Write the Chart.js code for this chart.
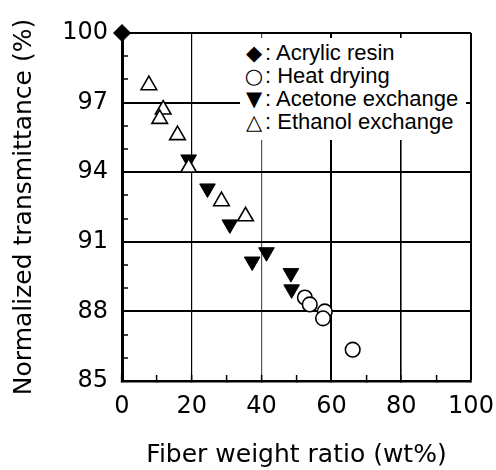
<!DOCTYPE html>
<html><head><meta charset="utf-8">
<script src="https://cdn.jsdelivr.net/npm/chart.js@4.4.1/dist/chart.umd.min.js"></script>
<style>
html,body{margin:0;padding:0;background:#fff;}
#wrap{position:relative;width:496px;height:470px;}
#c{position:absolute;left:0;top:0;}
#legend{position:absolute;left:240px;top:38px;width:226px;height:102px;background:#fff;font-family:'Liberation Sans',Arial,sans-serif;font-size:22px;color:#000;padding-top:3px;box-sizing:border-box;}
.item{height:23px;line-height:23px;white-space:nowrap;}
.sym{display:inline-block;width:22px;text-align:center;font-family:'DejaVu Sans',sans-serif;font-size:21px;margin-left:3px;}
</style></head><body>
<div id="wrap"><canvas id="c" width="496" height="470"></canvas><div id="legend"></div></div>
<script>
// ---- data ----
const xTickLabels = [0, 20, 40, 60, 80, 100];
const yTickLabels = [85, 88, 91, 94, 97, 100];
const seriesNames = ['Acrylic resin', 'Heat drying', 'Acetone exchange', 'Ethanol exchange'];
const seriesGlyphs = ['\u25C6', '\u25CB', '\u25BC', '\u25B3'];

const acrylicX = [0];
const acrylicY = [100];

const heatX = [52.4, 53.8, 58.1, 57.6, 66.1];
const heatY = [88.6, 88.3, 88.0, 87.7, 86.35];

const acetoneX = [19.1, 24.5, 30.9, 37.3, 41.4, 48.4, 48.6];
const acetoneY = [94.55, 93.3, 91.75, 90.15, 90.55, 89.65, 88.95];

const ethanolX = [7.7, 11.8, 10.8, 15.9, 19.1, 28.5, 35.4];
const ethanolY = [97.75, 96.7, 96.3, 95.6, 94.2, 92.75, 92.1];

const pts = (xs, ys) => xs.map((x, i) => ({x: x, y: ys[i]}));

const datasets = [
  {label: seriesNames[0], data: pts(acrylicX, acrylicY), pointStyle: 'rectRot', pointRadius: 8.5,
   backgroundColor: '#000', borderColor: '#000', borderWidth: 1, order: 0, clip: false},
  {label: seriesNames[1], data: pts(heatX, heatY), pointStyle: 'circle', pointRadius: 7.3,
   backgroundColor: '#fff', borderColor: '#000', borderWidth: 1.6, order: 1, clip: false},
  {label: seriesNames[2], data: pts(acetoneX, acetoneY), pointStyle: 'triangle', pointRotation: 180, pointRadius: 9,
   backgroundColor: '#000', borderColor: '#000', borderWidth: 1, order: 3, clip: false},
  {label: seriesNames[3], data: pts(ethanolX, ethanolY), pointStyle: 'triangle', pointRadius: 9,
   backgroundColor: '#fff', borderColor: '#000', borderWidth: 1.6, order: 2, clip: false}
];

const TR = 'rgba(0,0,0,0)';
const chart = new Chart(document.getElementById('c'), {
  type: 'scatter',
  data: {datasets: datasets},
  options: {
    responsive: false,
    animation: false,
    events: [],
    layout: {padding: {top: 33, right: 25, left: 0, bottom: 0}},
    plugins: {legend: {display: false}, tooltip: {enabled: false}},
    scales: {
      x: {
        type: 'linear', min: 0, max: 100,
        afterFit: s => { s.height = 89; s.paddingRight = 0; s.paddingLeft = 0; },
        ticks: {stepSize: 10, autoSkip: false, maxRotation: 0, padding: 17, color: '#000',
          font: {family: 'DejaVu Sans', size: 24},
          callback: v => xTickLabels.includes(v) ? String(v) : ''},
        grid: {
          color: c => { const v = c.tick ? c.tick.value : null;
            if (v === 40) return '#555';
            return (v === 20 || v === 60 || v === 80 || v === 100) ? '#000' : TR; },
          lineWidth: c => { const v = c.tick ? c.tick.value : null;
            return v === 60 || v === 100 ? 2 : (v === 80 ? 1.6 : 1.2); },
          tickColor: '#000', tickLength: -6, tickWidth: 1.5, drawTicks: true
        },
        border: {display: true, color: '#000', width: 2.5},
        title: {display: true, text: 'Fiber weight ratio (wt%)', color: '#000',
          font: {family: 'DejaVu Sans', size: 25}, padding: {top: 0, bottom: 0}}
      },
      y: {
        type: 'linear', min: 85, max: 100,
        afterFit: s => { s.width = 122; s.paddingTop = 0; s.paddingBottom = 0; },
        ticks: {stepSize: 1, autoSkip: false, padding: 20, color: '#000',
          font: {family: 'DejaVu Sans', size: 24},
          callback: v => yTickLabels.includes(v) ? String(v) : ''},
        grid: {
          color: c => { const v = c.tick ? c.tick.value : null;
            return (yTickLabels.includes(v) && v !== 85) ? '#000' : TR; },
          lineWidth: 2,
          tickColor: '#000', tickLength: -6, tickWidth: 1.5, drawTicks: true
        },
        border: {display: true, color: '#000', width: 3},
        title: {display: true, text: 'Normalized transmittance (%)', color: '#000',
          font: {family: 'DejaVu Sans', size: 25}, padding: {top: 9, bottom: 0}}
      }
    }
  }
});

// legend built from the chart's datasets
const lg = document.getElementById('legend');
chart.data.datasets.forEach((ds, i) => {
  const row = document.createElement('div');
  row.className = 'item';
  const sym = document.createElement('span');
  sym.className = 'sym';
  sym.textContent = seriesGlyphs[i];
  row.appendChild(sym);
  row.appendChild(document.createTextNode(': ' + ds.label));
  lg.appendChild(row);
});
</script>
</body></html>
